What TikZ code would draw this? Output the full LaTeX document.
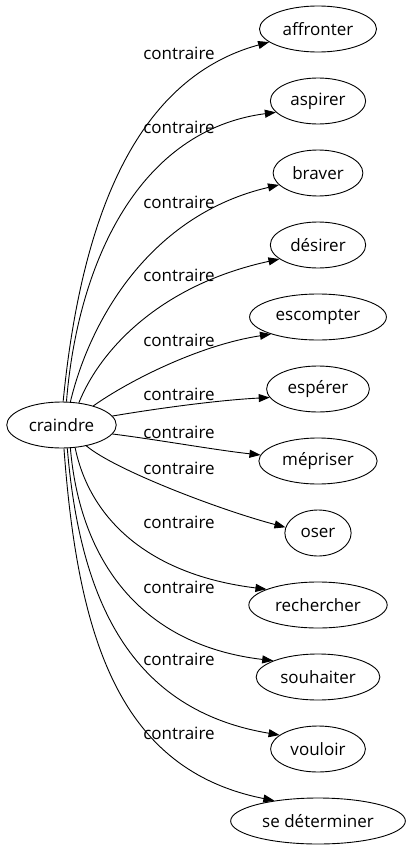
\documentclass[tikz,border=0pt]{standalone}
\usepackage{fontspec}
\setmainfont{Open Sans}
\usetikzlibrary{arrows.meta,shapes.geometric}

\begin{document}
\begin{tikzpicture}[x=1pt, y=-1pt,
word/.style={draw, ellipse, inner xsep=6pt, inner ysep=2pt, minimum height=46pt, line width=0.9pt, font=\fontsize{17}{20}\selectfont},
rel/.style={inner sep=0pt, font=\fontsize{17}{20}\selectfont},
arrow/.style={-{Triangle[length=11pt,width=8pt]}, line width=0.9pt}
]
\useasboundingbox (0,0) rectangle (409,851);
% nodes
\node[word] (craindre) at (61.5,425) {craindre};
\node[word] (affronter) at (318,29) {affronter};
\node[word] (aspirer) at (318,101) {aspirer};
\node[word] (braver) at (318,173) {braver};
\node[word] (desirer) at (318,245) {désirer};
\node[word] (escompter) at (318,317) {escompter};
\node[word] (esperer) at (318,389) {espérer};
\node[word] (mepriser) at (318,461) {mépriser};
\node[word] (oser) at (318,533) {oser};
\node[word] (rechercher) at (318,605) {rechercher};
\node[word] (souhaiter) at (318,677) {souhaiter};
\node[word] (vouloir) at (318,749) {vouloir};
\node[word] (determiner) at (318,821) {se déterminer};
% labels
\node[rel] (l-affronter) at (179,53) {contraire};
\node[rel] (l-aspirer) at (179,127) {contraire};
\node[rel] (l-braver) at (179,202) {contraire};
\node[rel] (l-desirer) at (179,275) {contraire};
\node[rel] (l-escompter) at (179,340) {contraire};
\node[rel] (l-esperer) at (179,394) {contraire};
\node[rel] (l-mepriser) at (179,432) {contraire};
\node[rel] (l-oser) at (179,468) {contraire};
\node[rel] (l-rechercher) at (179,522) {contraire};
\node[rel] (l-souhaiter) at (179,587) {contraire};
\node[rel] (l-vouloir) at (179,659) {contraire};
\node[rel] (l-determiner) at (179,733) {contraire};
% edges
\draw[arrow] (craindre.86) .. controls (80,230) and (130,80) .. (affronter.195);
\draw[arrow] (craindre.78) .. controls (78,260) and (140,130) .. (aspirer.195);
\draw[arrow] (craindre.69) .. controls (90,320) and (150,215) .. (braver.197);
\draw[arrow] (craindre.52) .. controls (100,350) and (160,285) .. (desirer.200);
\draw[arrow] (craindre.31) .. controls (130,380) and (200,345) .. (escompter.200);
\draw[arrow] (craindre.10) .. controls (160,408) and (220,400) .. (esperer.190);
\draw[arrow] (craindre.350) .. controls (160,440) and (215,450) .. (mepriser.174);
\draw[arrow] (craindre.320) .. controls (115,470) and (220,510) .. (oser.170);
\draw[arrow] (craindre.301) .. controls (90,520) and (150,575) .. (rechercher.163);
\draw[arrow] (craindre.291) .. controls (80,560) and (140,645) .. (souhaiter.160);
\draw[arrow] (craindre.284) .. controls (80,600) and (130,710) .. (vouloir.160);
\draw[arrow] (craindre.276) .. controls (78,640) and (120,770) .. (determiner.155);
\end{tikzpicture}
\end{document}
